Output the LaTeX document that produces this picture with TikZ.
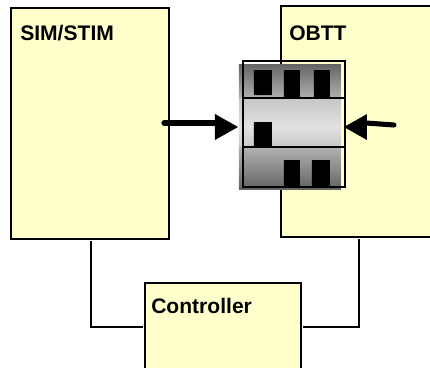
\documentclass[tikz,border=0pt]{standalone}
\usepackage{fontspec}
\setmainfont{Liberation Sans}
\definecolor{boxfill}{RGB}{255,255,204}
\definecolor{shadeD}{RGB}{100,100,100}
\definecolor{shadeM}{RGB}{178,178,178}
\definecolor{shadeN}{RGB}{198,198,198}
\definecolor{shadeL}{RGB}{226,226,226}
\pgfdeclareverticalshading{devTop}{100bp}{color(0bp)=(shadeM); color(25bp)=(shadeM); color(75bp)=(shadeD); color(100bp)=(shadeD)}
\pgfdeclareverticalshading{devMidA}{100bp}{color(0bp)=(shadeN); color(25bp)=(shadeN); color(75bp)=(shadeL); color(100bp)=(shadeL)}
\pgfdeclareverticalshading{devMidB}{100bp}{color(0bp)=(shadeL); color(25bp)=(shadeL); color(75bp)=(shadeN); color(100bp)=(shadeN)}
\pgfdeclareverticalshading{devBot}{100bp}{color(0bp)=(shadeD); color(25bp)=(shadeD); color(75bp)=(shadeM); color(100bp)=(shadeM)}
\tikzset{
  x=0.75pt,y=-0.75pt,
  block/.style={draw=black,line width=1.5pt,fill=boxfill},
  lbl/.style={font=\bfseries\fontsize{15.8}{18}\selectfont,anchor=base west,inner sep=0pt},
  wire/.style={draw=black,line width=1.5pt},
  hole/.style={fill=black,rounded corners=0.5pt},
  thick arrow/.style={line width=3.8pt,line cap=round}
}
\begin{document}
\begin{tikzpicture}
\useasboundingbox (0,0) rectangle (430,368);
% wires
\coordinate (wl1) at (91,241);
\coordinate (wl2) at (91,327);
\coordinate (wl3) at (143,327);
\coordinate (wr1) at (359,239);
\coordinate (wr2) at (359,327);
\coordinate (wr3) at (303,327);
\draw[wire] (wl1) -- (wl2) -- (wl3);
\draw[wire] (wr1) -- (wr2) -- (wr3);
% boxes
\path[block] (11,8) rectangle (169,239);
\path[block] (281,6) rectangle (434,237);
\path[block] (145,283) rectangle (301,372);
\node[lbl] (sim) at (20,40) {SIM/STIM};
\node[lbl] (obtt) at (289,40) {OBTT};
\node[lbl] (ctl) at (151,313) {Controller};
% device
\shade[shading=devTop] (239,64) rectangle (341,98.5);
\shade[shading=devMidB] (239,98) rectangle (341,127.5);
\shade[shading=devMidA] (239,127) rectangle (341,147.5);
\shade[shading=devBot] (239,147) rectangle (341,189);
\fill[hole] (254,70) rectangle (272,95);
\fill[hole] (284,70) rectangle (300,98);
\fill[hole] (314,70) rectangle (330,98);
\fill[hole] (254,122) rectangle (272,147);
\fill[hole] (284,160) rectangle (300,186);
\fill[hole] (312,160) rectangle (330,186);
\draw[black,line width=1.5pt] (243,61) rectangle (345,187);
\draw[black,line width=1.5pt] (243,98) -- (345,98);
\draw[black,line width=1.5pt] (243,147) -- (345,147);
% arrows
\coordinate (la) at (164,123);
\coordinate (lb) at (216,123);
\draw[thick arrow] (la) -- (lb);
\fill (215,114) -- (238,127) -- (215,140) -- cycle;
\coordinate (ra) at (394,125);
\coordinate (rb) at (366,123);
\draw[thick arrow] (ra) -- (rb);
\fill (367,114) -- (344,127) -- (367,140) -- cycle;
\end{tikzpicture}
\end{document}
